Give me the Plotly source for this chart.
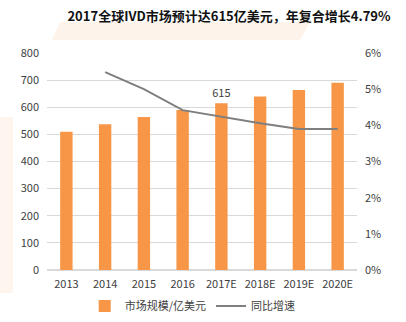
import plotly.graph_objects as go

years = ["2013", "2014", "2015", "2016", "2017E", "2018E", "2019E", "2020E"]
market = [510, 537, 564, 590, 615, 640, 664, 690]
growth_years = ["2014", "2015", "2016", "2017E", "2018E", "2019E", "2020E"]
growth = [5.47, 5.0, 4.42, 4.23, 4.06, 3.9, 3.9]
bar_labels = ["", "", "", "", "615", "", "", ""]

font_cjk = "Noto Sans CJK SC, Noto Sans, sans-serif"

fig = go.Figure()
fig.add_trace(go.Bar(
    x=years, y=market, name="市场规模/亿美元",
    marker=dict(color="#F79646", line=dict(width=0)),
    text=bar_labels, textposition="outside", constraintext="none",
    textfont=dict(size=11, color="#404040"),
    cliponaxis=False, width=0.32,
))
fig.add_trace(go.Scatter(
    x=growth_years, y=growth, name="同比增速", yaxis="y2",
    mode="lines", line=dict(color="#7F7F7F", width=2),
))

fig.update_layout(
    width=406, height=322,
    margin=dict(l=47, r=49, t=53, b=52, autoexpand=False),
    paper_bgcolor="white", plot_bgcolor="white",
    font=dict(family=font_cjk, size=11, color="#404040"),
    showlegend=True,
    legend=dict(orientation="h", x=0.47, xanchor="center",
                y=1-306/322, yanchor="middle", yref="container",
                font=dict(size=11, color="#404040")),
    xaxis=dict(showgrid=False, showline=False, ticks="", tickfont=dict(size=11),
               ticklabelstandoff=6),
    yaxis=dict(range=[0, 800], dtick=100, showgrid=True, gridcolor="#D9D9D9",
               gridwidth=1, zeroline=True, zerolinecolor="#D9D9D9", showline=False,
               ticks="", tickfont=dict(size=11), ticklabelstandoff=7),
    yaxis2=dict(range=[0, 6], dtick=1, overlaying="y", side="right",
                ticksuffix="%", showgrid=False, zeroline=False, showline=False,
                ticks="", tickfont=dict(size=11), ticklabelstandoff=7),
    title=dict(text="<b>2017全球IVD市场预计达615亿美元，年复合增长4.79%</b>",
               x=229/406, xanchor="center", y=1-16/322, yanchor="middle",
               xref="container", yref="container",
               font=dict(family=font_cjk, size=13, color="#111111")),
    shapes=[
        dict(type="path", xref="paper", yref="paper", layer="below",
             path="M {},{} L {},{} L {},{} L {},{} Z".format(
                 (60-47)/310, (270-22)/217, (310-47)/310, (270-22)/217,
                 (300-47)/310, (270-40)/217, (52-47)/310, (270-40)/217),
             fillcolor="#FDF3EA", line=dict(width=0)),
        dict(type="rect", xref="paper", yref="paper", layer="below",
             x0=-47/310, x1=-34/310, y0=(270-293)/217, y1=(270-117)/217,
             fillcolor="#FDF5EE", line=dict(width=0)),
    ],
)

fig.write_html("out.html")
